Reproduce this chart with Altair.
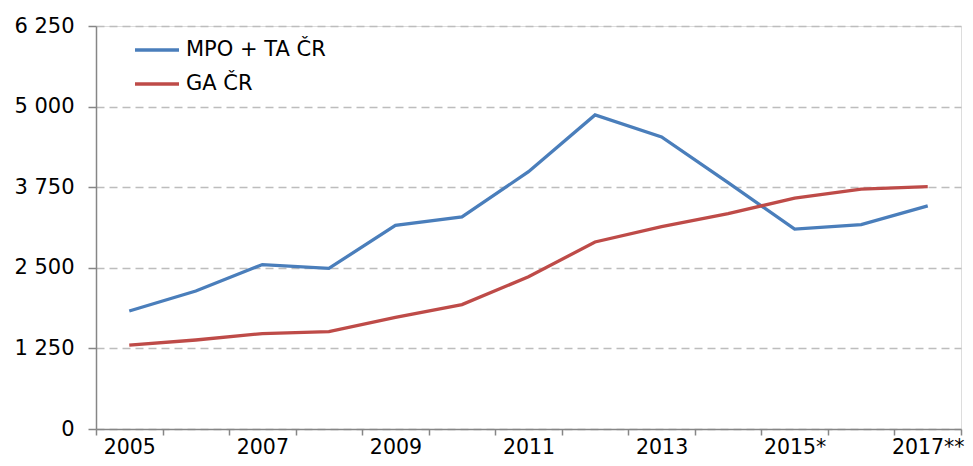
import altair as alt
import pandas as pd

years = ["2005", "2006", "2007", "2008", "2009", "2010", "2011", "2012",
         "2013", "2014", "2015*", "2016*", "2017**"]
shown_labels = ["2005", "2007", "2009", "2011", "2013", "2015*", "2017**"]
mpo_ta = [1830, 2140, 2550, 2490, 3160, 3290, 3990, 4870, 4530, 3820, 3100, 3170, 3460]
ga = [1300, 1380, 1480, 1510, 1730, 1930, 2360, 2900, 3140, 3340, 3580, 3720, 3760]
series = ["MPO + TA ČR", "GA ČR"]
colors = ["#4A7EBB", "#BE4B48"]
y_ticks = [0, 1250, 2500, 3750, 5000, 6250]

rows = []
for i, yr in enumerate(years):
    rows.append({"year": yr, "series": series[0], "value": mpo_ta[i], "order": i})
    rows.append({"year": yr, "series": series[1], "value": ga[i], "order": i})
df = pd.DataFrame(rows)

label_list = "[" + ",".join("'" + s + "'" for s in shown_labels) + "]"

chart = alt.Chart(df).mark_line(strokeWidth=3.3).encode(
    x=alt.X("year:O", sort=years, bandPosition=0.5,
            scale=alt.Scale(type="band", paddingInner=0, paddingOuter=0),
            axis=alt.Axis(title=None, labelAngle=0, tickBand="extent",
                          labelExpr="indexof(" + label_list + ", datum.label) >= 0 ? datum.label : ''",
                          labelFont="DejaVu Sans", labelFontSize=20.5, labelColor="#000000",
                          labelPadding=2, tickSize=6, tickColor="#868686", tickWidth=1.5,
                          domainColor="#868686", domainWidth=1.5, grid=False)),
    y=alt.Y("value:Q", scale=alt.Scale(domain=[0, 6250], nice=False),
            axis=alt.Axis(title=None, values=y_ticks,
                          labelExpr="replace(format(datum.value, ','), ',', ' ')",
                          labelFont="DejaVu Sans", labelFontSize=21, labelColor="#000000",
                          labelPadding=14, tickSize=8, tickColor="#868686", tickWidth=1.5,
                          domainColor="#868686", domainWidth=1.5,
                          grid=True, gridColor="#bdbdbd", gridDash=[8, 5], gridWidth=1.5)),
    color=alt.Color("series:N", sort=series,
                    scale=alt.Scale(domain=series, range=colors),
                    legend=alt.Legend(title=None, orient="none", legendX=37, legendY=0,
                                      symbolType="stroke", symbolSize=1936, symbolStrokeWidth=3.5,
                                      labelFont="DejaVu Sans", labelFontSize=21, labelColor="#000000",
                                      labelOffset=5, rowPadding=-12, padding=0)),
    order="order:Q",
).properties(
    width=865, height=403,
    autosize=alt.AutoSizeParams(type="none"),
    padding={"left": 88, "top": 18, "right": 4, "bottom": 29},
).configure_view(stroke=None).configure(background="white")

chart.save("out.html", embed_options={"renderer": "svg", "actions": False})
